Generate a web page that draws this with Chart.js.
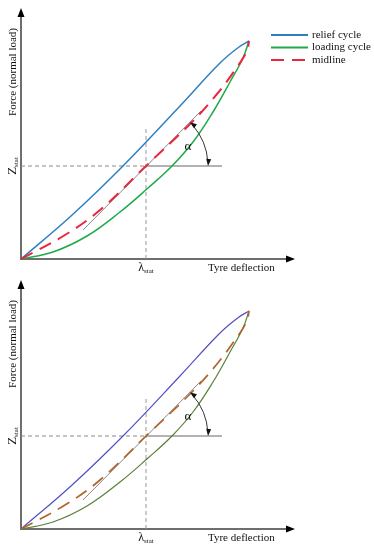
<!DOCTYPE html>
<html>
<head>
<meta charset="utf-8">
<script src="https://cdn.jsdelivr.net/npm/chart.js@4"></script>
<style>
  body { margin: 0; background: #fff; }
  canvas { display: block; }
</style>
</head>
<body>
<canvas id="top" width="374" height="275"></canvas>
<canvas id="bottom" width="374" height="275"></canvas>
<script>
// curve points (deflection, force) in arbitrary units
let reliefX = [0, 50, 102, 159, 199, 218, 228];
let reliefY = [0, 43, 93, 153, 196, 212, 218];
let loadingX = [0, 32, 66, 99, 127, 151, 172, 192, 209, 222, 228];
let loadingY = [0, 7, 23, 47, 71, 93, 117, 147, 177, 201, 218];
let midX = [0, 44, 79, 125, 171, 196, 214, 226, 228];
let midY = [0, 24, 49, 93, 137, 165, 189, 208, 218];
let tangentX = [62, 180];
let tangentY = [29, 148];
let lambdaStat = 125;
let zStat = 93;
let vLineTop = 131;
let hLineEnd = 201;
let seriesNames = ['relief cycle', 'loading cycle', 'midline'];
let xMax = 274;

const SERIF = '"Liberation Serif", "DejaVu Serif", serif';

function pts(xs, ys){
  return xs.map((x, i) => ({x: x, y: ys[i]}));
}

function arrowHead(ctx, x, y, ang, len, w){
  ctx.save();
  ctx.translate(x, y);
  ctx.rotate(ang);
  ctx.beginPath();
  ctx.moveTo(0, 0);
  ctx.lineTo(-len, -w);
  ctx.lineTo(-len, w);
  ctx.closePath();
  ctx.fill();
  ctx.restore();
}

function subText(ctx, x, y, main, sub, mainSize, subSize, center){
  ctx.font = mainSize + 'px ' + SERIF;
  let w1 = ctx.measureText(main).width;
  ctx.font = subSize + 'px ' + SERIF;
  let w2 = ctx.measureText(sub).width;
  let sx = center ? x - (w1 + w2) / 2 : x;
  ctx.textAlign = 'left';
  ctx.textBaseline = 'alphabetic';
  ctx.font = mainSize + 'px ' + SERIF;
  ctx.fillText(main, sx, y);
  ctx.font = subSize + 'px ' + SERIF;
  ctx.fillText(sub, sx + w1, y + 2);
}

let deco = {
  id: 'deco',
  beforeDatasetsDraw(chart){
    let ctx = chart.ctx;
    let xs = chart.scales.x, ys = chart.scales.y;
    let ox = xs.getPixelForValue(0), oy = ys.getPixelForValue(0);
    let right = chart.chartArea.right, top = chart.chartArea.top;
    ctx.save();
    ctx.strokeStyle = '#6e6e6e';
    ctx.fillStyle = '#000';
    ctx.lineWidth = 2;
    ctx.beginPath();
    ctx.moveTo(ox, top + 6);
    ctx.lineTo(ox, oy);
    ctx.lineTo(right - 6, oy);
    ctx.stroke();
    arrowHead(ctx, ox, top - 2, -Math.PI / 2, 9, 3.5);
    arrowHead(ctx, right, oy, 0, 9, 3.5);
    ctx.restore();
  },
  afterDatasetsDraw(chart, args, opts){
    let ctx = chart.ctx;
    let xs = chart.scales.x, ys = chart.scales.y;
    let ox = xs.getPixelForValue(0), oy = ys.getPixelForValue(0);
    let cx = xs.getPixelForValue(lambdaStat), cy = ys.getPixelForValue(zStat);
    ctx.save();
    ctx.fillStyle = '#111';
    // angle arc with arrows
    ctx.strokeStyle = '#333';
    ctx.lineWidth = 1;
    let r = 62;
    ctx.beginPath();
    ctx.arc(cx, cy, r, -Math.PI / 4 + 0.06, -0.06);
    ctx.stroke();
    let a1 = -Math.PI / 4;
    arrowHead(ctx, cx + r * Math.cos(a1), cy + r * Math.sin(a1), a1 - Math.PI / 2 - 0.15, 7, 2.5);
    arrowHead(ctx, cx + r, cy, Math.PI / 2 + 0.1, 7, 2.5);
    ctx.font = '13px ' + SERIF;
    ctx.textAlign = 'center';
    ctx.textBaseline = 'middle';
    ctx.fillText('\u03b1', cx + 42, cy - 19);
    // axis texts
    ctx.font = '11px ' + SERIF;
    ctx.textAlign = 'left';
    ctx.textBaseline = 'alphabetic';
    ctx.fillText('Tyre deflection', ox + 187, oy + 12);
    subText(ctx, cx, oy + 12, '\u03bb', 'stat', 12, 7, true);
    ctx.save();
    ctx.translate(ox - 5, cy);
    ctx.rotate(-Math.PI / 2);
    subText(ctx, 0, 0, 'Z', 'stat', 13, 7, true);
    ctx.restore();
    ctx.save();
    ctx.translate(ox - 5, chart.chartArea.top + 62);
    ctx.rotate(-Math.PI / 2);
    ctx.font = '11px ' + SERIF;
    ctx.textAlign = 'center';
    ctx.fillText('Force (normal load)', 0, 0);
    ctx.restore();
    // legend
    if (opts.legend) {
      [0, 1, 2].forEach((k, i) => {
        let ds = chart.data.datasets[k];
        let y = 35 + i * 12.5;
        ctx.strokeStyle = ds.borderColor;
        ctx.lineWidth = 2;
        ctx.setLineDash(ds.borderDash || []);
        ctx.beginPath();
        ctx.moveTo(271, y);
        ctx.lineTo(308, y);
        ctx.stroke();
        ctx.setLineDash([]);
        ctx.fillStyle = '#111';
        ctx.font = '11px ' + SERIF;
        ctx.textBaseline = 'middle';
        ctx.fillText(ds.label, 312, y);
      });
    }
    ctx.restore();
  }
};

function makeChart(id, cols, lw, legend, padTop, padBottom){
  let yMax = 275 - padTop - padBottom;
  let guide = {borderColor: '#888', borderWidth: 1, pointRadius: 0, showLine: true, tension: 0};
  let curve = {showLine: true, pointRadius: 0, tension: 0.4};
  return new Chart(document.getElementById(id), {
    type: 'scatter',
    data: {
      datasets: [
        Object.assign({label: seriesNames[0], data: pts(reliefX, reliefY), borderColor: cols[0], borderWidth: lw, order: 2}, curve),
        Object.assign({label: seriesNames[1], data: pts(loadingX, loadingY), borderColor: cols[1], borderWidth: lw, order: 3}, curve),
        Object.assign({label: seriesNames[2], data: pts(midX, midY), borderColor: cols[2], borderWidth: lw + 0.5,
          borderDash: [13, 8], order: 1}, curve),
        Object.assign({label: 'tangent', data: pts(tangentX, tangentY), order: 4}, guide),
        Object.assign({label: 'zstat', data: [{x: 0, y: zStat}, {x: lambdaStat, y: zStat}], borderDash: [4, 3], order: 5}, guide),
        Object.assign({label: 'horiz', data: [{x: lambdaStat, y: zStat}, {x: hLineEnd, y: zStat}], order: 5}, guide, {borderColor: '#666'}),
        Object.assign({label: 'lambda', data: [{x: lambdaStat, y: 0}, {x: lambdaStat, y: vLineTop}], borderDash: [4, 3], order: 5}, guide, {borderColor: '#999'})
      ]
    },
    options: {
      responsive: false,
      animation: false,
      layout: {padding: {left: 21, right: 79, top: padTop, bottom: padBottom}},
      scales: {
        x: {type: 'linear', min: 0, max: xMax, display: false},
        y: {type: 'linear', min: 0, max: yMax, display: false}
      },
      plugins: {
        legend: {display: false},
        tooltip: {enabled: false},
        deco: {legend: legend}
      }
    },
    plugins: [deco]
  });
}

makeChart('top', ['#2f7fc0', '#1faa4a', '#e8283c'], 1.5, true, 10, 16);
makeChart('bottom', ['#5050c8', '#5a8038', '#b0652a'], 1.2, false, 7, 21);
</script>
</body>
</html>
